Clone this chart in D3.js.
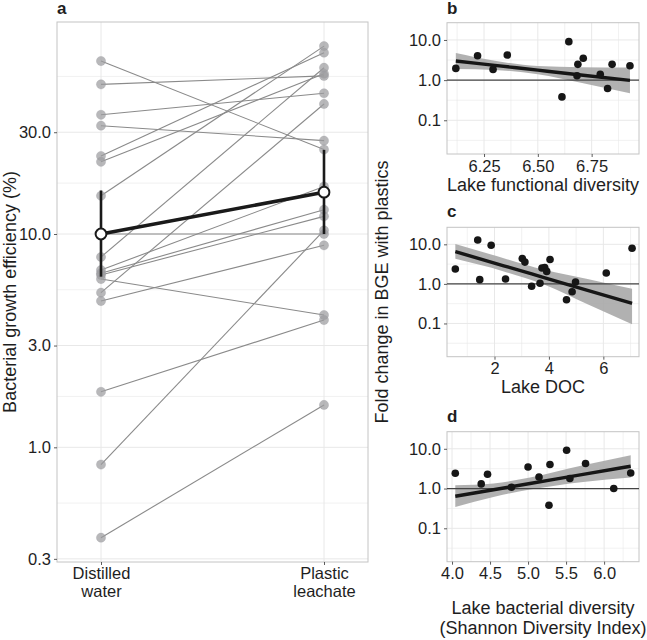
<!DOCTYPE html>
<html>
<head>
<meta charset="utf-8">
<script src="https://cdn.jsdelivr.net/npm/d3@7"></script>
<style>
  html, body { margin: 0; padding: 0; background: #fff; }
  svg { display: block; font-family: "Liberation Sans", Arial, Helvetica, sans-serif; }
</style>
</head>
<body>
<svg id="chart" width="647" height="640"></svg>
<script>
// ---------------- DATA ----------------
// Panel a: paired bacterial growth efficiency (%)
const conditions = ["Distilled water", "Plastic leachate"];
const conditionLabels = [["Distilled", "water"], ["Plastic", "leachate"]];
const bgeDistilled = [64.7, 50.3, 36.2, 32.2, 23.2, 21.8, 15.1, 7.8, 6.78, 6.55, 6.43, 6.15, 5.31, 4.85, 1.82, 0.83, 0.377, 10.0];
const bgePlastic   = [24.9, 55.1, 45.7, 27.4, 70.8, 56.4, 76.0, 60.2, 16.7, 13.0, 12.1, 4.17, 40.7, 8.85, 3.95, 10.4, 1.58, 10.0];
const bgeMean = [10.0, 15.7];
const bgeLow  = [6.31, 10.0];
const bgeHigh = [16.0, 24.8];
const aTicks = [0.3, 1, 3, 10, 30, 100];
const aTickLabels = ["0.3", "1.0", "3.0", "10.0", "30.0", "100.0"];

// Panels b-d: fold change in BGE with plastics
const foldTicks = [0.1, 1, 10];
const foldTickLabels = ["0.1", "1.0", "10.0"];

// b: lake functional diversity
const funcDiv  = [6.119, 6.220, 6.292, 6.358, 6.612, 6.644, 6.682, 6.686, 6.711, 6.790, 6.824, 6.845, 6.928];
const funcFold = [1.96, 4.05, 1.85, 4.22, 0.382, 9.07, 1.28, 2.47, 3.49, 1.39, 0.62, 2.47, 2.28];
const funcTicks = [6.25, 6.5, 6.75];
const funcTickLabels = ["6.25", "6.50", "6.75"];
const funcFitX  = [6.119, 6.3, 6.5, 6.7, 6.928];
const funcFitY  = [2.985, 2.328, 1.77, 1.345, 0.983];
const funcFitLo = [1.884, 1.79, 1.40, 0.863, 0.470];
const funcFitHi = [4.73, 3.03, 2.24, 2.09, 2.05];

// c: lake DOC
const doc     = [0.561, 1.384, 1.458, 1.878, 2.406, 3.022, 3.118, 3.365, 3.672, 3.745, 3.845, 3.919, 4.041, 4.646, 4.852, 4.978, 6.107, 7.055];
const docFold = [2.37, 12.8, 1.28, 9.44, 1.33, 4.37, 3.55, 0.871, 1.035, 2.51, 2.60, 2.07, 4.12, 0.398, 0.631, 1.12, 1.88, 7.94];
const docTicks = [2, 4, 6];
const docTickLabels = ["2", "4", "6"];
const docFitX  = [0.561, 2.34, 3.82, 5.42, 7.055];
const docFitY  = [6.53, 2.87, 1.445, 0.688, 0.322];
const docFitLo = [4.29, 2.07, 0.96, 0.304, 0.096];
const docFitHi = [10.17, 4.47, 2.28, 1.33, 0.75];

// d: lake bacterial diversity (Shannon)
const shannon     = [4.043, 4.384, 4.467, 4.781, 5.0, 5.144, 5.275, 5.288, 5.507, 5.55, 5.756, 6.127, 6.35];
const shannonFold = [2.43, 1.31, 2.29, 1.08, 3.49, 1.96, 0.38, 4.02, 9.19, 1.785, 4.26, 1.0, 2.47];
const shannonTicks = [4.0, 4.5, 5.0, 5.5, 6.0];
const shannonTickLabels = ["4.0", "4.5", "5.0", "5.5", "6.0"];
const shannonFitX  = [4.043, 4.545, 5.026, 5.725, 6.35];
const shannonFitY  = [0.64, 0.933, 1.34, 2.28, 3.64];
const shannonFitLo = [0.344, 0.615, 0.944, 1.47, 1.89];
const shannonFitHi = [1.21, 1.34, 1.89, 3.86, 6.88];

// ---------------- STYLE ----------------
const GRID = "#e8e8e8";
const BORDER = "#c4c4c4";
const TEXT = "#1e1e1e";
const TICKCOL = "#333";

const svg = d3.select("#chart");

function logMinor(ticks) {
  const m = [];
  for (let i = 0; i < ticks.length - 1; i++) {
    m.push(Math.pow(10, (Math.log10(ticks[i]) + Math.log10(ticks[i + 1])) / 2));
  }
  return m;
}
function linMinor(ticks, lo, hi) {
  const step = ticks[1] - ticks[0];
  const m = [];
  for (let v = ticks[0] - step / 2; v <= hi + 1e-9; v += step) if (v >= lo) m.push(v);
  return m;
}

function drawFrame(g, x, y, box, opts) {
  const [x0, x1] = [box.left, box.right];
  const [y0, y1] = [box.top, box.bottom];
  // grid
  const gg = g.append("g");
  (opts.yMinor || []).forEach(v => {
    const yy = y(v); if (yy < y0 || yy > y1) return;
    gg.append("line").attr("x1", x0).attr("x2", x1).attr("y1", yy).attr("y2", yy)
      .attr("stroke", GRID).attr("stroke-width", 0.6);
  });
  (opts.xMinor || []).forEach(v => {
    const xx = x(v); if (xx < x0 || xx > x1) return;
    gg.append("line").attr("y1", y0).attr("y2", y1).attr("x1", xx).attr("x2", xx)
      .attr("stroke", GRID).attr("stroke-width", 0.6);
  });
  opts.yTicks.forEach(v => {
    const yy = y(v); if (yy < y0 - 0.5 || yy > y1 + 0.5) return;
    gg.append("line").attr("x1", x0).attr("x2", x1).attr("y1", yy).attr("y2", yy)
      .attr("stroke", GRID).attr("stroke-width", 1);
  });
  opts.xGrid.forEach(v => {
    const xx = x(v); if (xx < x0 || xx > x1) return;
    gg.append("line").attr("y1", y0).attr("y2", y1).attr("x1", xx).attr("x2", xx)
      .attr("stroke", GRID).attr("stroke-width", 1);
  });
  // border
  g.append("rect").attr("x", x0).attr("y", y0).attr("width", x1 - x0).attr("height", y1 - y0)
    .attr("fill", "none").attr("stroke", BORDER).attr("stroke-width", 1);

  // axes
  const yAxis = d3.axisLeft(y).tickValues(opts.yTicks.filter(v => y(v) >= y0 - 0.5 && y(v) <= y1 + 0.5))
    .tickFormat(v => opts.yLabels[opts.yTicks.indexOf(v)]).tickSize(3).tickPadding(3);
  const ya = g.append("g").attr("transform", `translate(${x0},0)`).call(yAxis);
  ya.select(".domain").remove();
  ya.selectAll("line").attr("stroke", TICKCOL).attr("stroke-width", 0.8);
  ya.selectAll("text").attr("fill", TEXT).style("font-size", opts.fs + "px")
    .style("font-family", "'Liberation Sans', Arial, sans-serif");

  const xAxis = d3.axisBottom(x).tickValues(opts.xTicks).tickFormat((v, i) => opts.xLabels ? opts.xLabels[i] : v)
    .tickSize(3).tickPadding(3);
  const xa = g.append("g").attr("transform", `translate(0,${y1})`).call(xAxis);
  xa.select(".domain").remove();
  xa.selectAll("line").attr("stroke", TICKCOL).attr("stroke-width", 0.8);
  xa.selectAll("text").attr("fill", TEXT).style("font-size", opts.fs + "px")
    .style("font-family", "'Liberation Sans', Arial, sans-serif");
  return xa;
}

// ---------------- PANEL A ----------------
(function () {
  const box = { left: 57, right: 368, top: 22, bottom: 562 };
  const g = svg.append("g");
  const x = d3.scalePoint().domain(conditions).range([101, 324]);
  const y = d3.scaleLog().domain([0.29, 98.6]).range([box.bottom, box.top]);

  const xa = drawFrame(g, x, y, box, {
    yTicks: aTicks, yLabels: aTickLabels, yMinor: logMinor(aTicks),
    xGrid: conditions, xTicks: conditions, xLabels: null, fs: 16.5
  });
  // two-line x labels
  xa.selectAll("text").each(function (d, i) {
    const t = d3.select(this);
    t.text(null).attr("y", 0).attr("dy", null);
    const lines = conditionLabels[i];
    lines.forEach((s, k) => {
      t.append("tspan").attr("x", 0).attr("y", 17 + k * 18).text(s);
    });
  });

  // paired lines
  const pairs = bgeDistilled.map((v, i) => [v, bgePlastic[i]]);
  g.append("g").selectAll("line").data(pairs).join("line")
    .attr("x1", x(conditions[0])).attr("x2", x(conditions[1]))
    .attr("y1", d => y(d[0])).attr("y2", d => y(d[1]))
    .attr("stroke", "#8a8a8a").attr("stroke-width", 1.1);
  // points
  const pts = [];
  pairs.forEach(p => { pts.push([conditions[0], p[0]]); pts.push([conditions[1], p[1]]); });
  g.append("g").selectAll("circle").data(pts).join("circle")
    .attr("cx", d => x(d[0])).attr("cy", d => y(d[1])).attr("r", 4.6)
    .attr("fill", "#9c9ca0").attr("fill-opacity", 0.72)
    .attr("stroke", "#9c9ca0").attr("stroke-opacity", 0.5).attr("stroke-width", 0.6);

  // error bars
  g.append("g").selectAll("line").data(conditions).join("line")
    .attr("x1", d => x(d)).attr("x2", d => x(d))
    .attr("y1", (d, i) => y(bgeLow[i])).attr("y2", (d, i) => y(bgeHigh[i]))
    .attr("stroke", "#1a1a1a").attr("stroke-width", 2.6);
  // mean line
  g.append("line")
    .attr("x1", x(conditions[0])).attr("x2", x(conditions[1]))
    .attr("y1", y(bgeMean[0])).attr("y2", y(bgeMean[1]))
    .attr("stroke", "#1a1a1a").attr("stroke-width", 3.6);
  g.append("g").selectAll("circle").data(conditions).join("circle")
    .attr("cx", d => x(d)).attr("cy", (d, i) => y(bgeMean[i])).attr("r", 5.4)
    .attr("fill", "#fff").attr("stroke", "#1a1a1a").attr("stroke-width", 2);

  // labels
  svg.append("text").attr("x", 57).attr("y", 14).text("a")
    .attr("font-weight", "bold").attr("font-size", 17).attr("fill", TEXT);
  svg.append("text").attr("transform", `translate(16,${(box.top + box.bottom) / 2}) rotate(-90)`)
    .attr("text-anchor", "middle").attr("font-size", 18).attr("fill", TEXT)
    .text("Bacterial growth efficiency (%)");
})();

// ---------------- PANELS B-D ----------------
function scatterPanel(cfg) {
  const box = cfg.box;
  const g = svg.append("g");
  const x = d3.scaleLinear().domain(cfg.xDomain).range([box.left, box.right]);
  const y = d3.scaleLog().domain([Math.pow(10, -1.84), Math.pow(10, 1.43)]).range([box.bottom, box.top]);

  drawFrame(g, x, y, box, {
    yTicks: foldTicks, yLabels: foldTickLabels, yMinor: logMinor([0.01].concat(foldTicks)),
    xGrid: cfg.xTicks, xMinor: linMinor(cfg.xTicks, cfg.xDomain[0], cfg.xDomain[1]),
    xTicks: cfg.xTicks, xLabels: cfg.xLabels, fs: 16.5
  });

  // ribbon
  const rib = cfg.fitX.map((v, i) => ({ x: v, lo: cfg.fitLo[i], hi: cfg.fitHi[i], f: cfg.fitY[i] }));
  g.append("path").datum(rib)
    .attr("d", d3.area().x(d => x(d.x)).y0(d => y(d.lo)).y1(d => y(d.hi)).curve(d3.curveMonotoneX))
    .attr("fill", "#a9a9a9").attr("fill-opacity", 0.9);
  // reference line at 1
  g.append("line").attr("x1", box.left).attr("x2", box.right).attr("y1", y(1)).attr("y2", y(1))
    .attr("stroke", "#444").attr("stroke-width", 1.2);
  // fit line
  g.append("path").datum(rib)
    .attr("d", d3.line().x(d => x(d.x)).y(d => y(d.f)).curve(d3.curveMonotoneX))
    .attr("fill", "none").attr("stroke", "#161616").attr("stroke-width", 3.4);
  // points
  g.append("g").selectAll("circle").data(cfg.xs.map((v, i) => [v, cfg.ys[i]])).join("circle")
    .attr("cx", d => x(d[0])).attr("cy", d => y(d[1])).attr("r", 3.8).attr("fill", "#161616");

  svg.append("text").attr("x", box.left).attr("y", cfg.labelY).text(cfg.label)
    .attr("font-weight", "bold").attr("font-size", 17).attr("fill", TEXT);
  cfg.title.forEach((t, k) => {
    svg.append("text").attr("x", (box.left + box.right) / 2).attr("y", cfg.titleY + k * 20)
      .attr("text-anchor", "middle").attr("font-size", 18).attr("fill", TEXT).text(t);
  });
}

scatterPanel({
  box: { left: 447, right: 639, top: 22.7, bottom: 154 },
  xDomain: [6.078, 6.97], xTicks: funcTicks, xLabels: funcTickLabels,
  xs: funcDiv, ys: funcFold, fitX: funcFitX, fitY: funcFitY, fitLo: funcFitLo, fitHi: funcFitHi,
  label: "b", labelY: 14, title: ["Lake functional diversity"], titleY: 191
});
scatterPanel({
  box: { left: 447, right: 639, top: 227.3, bottom: 356.7 },
  xDomain: [0.255, 7.31], xTicks: docTicks, xLabels: docTickLabels,
  xs: doc, ys: docFold, fitX: docFitX, fitY: docFitY, fitLo: docFitLo, fitHi: docFitHi,
  label: "c", labelY: 217, title: ["Lake DOC"], titleY: 393
});
scatterPanel({
  box: { left: 447, right: 639, top: 431.7, bottom: 561.7 },
  xDomain: [3.934, 6.459], xTicks: shannonTicks, xLabels: shannonTickLabels,
  xs: shannon, ys: shannonFold, fitX: shannonFitX, fitY: shannonFitY, fitLo: shannonFitLo, fitHi: shannonFitHi,
  label: "d", labelY: 422, title: ["Lake bacterial diversity", "(Shannon Diversity Index)"], titleY: 614
});

svg.append("text").attr("transform", "translate(388,292) rotate(-90)")
  .attr("text-anchor", "middle").attr("font-size", 18).attr("fill", TEXT)
  .text("Fold change in BGE with plastics");
</script>
</body>
</html>
